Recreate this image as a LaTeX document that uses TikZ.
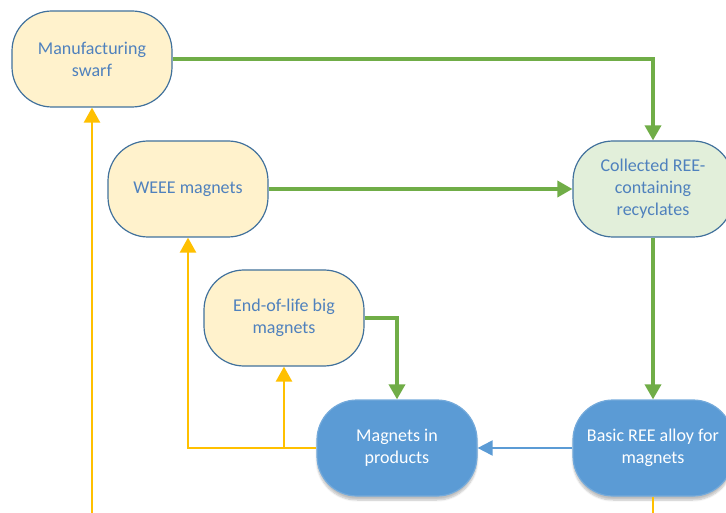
\documentclass[tikz,border=0pt]{standalone}
\usepackage{fontspec}
\setmainfont{Carlito}
\usetikzlibrary{arrows.meta,shadows.blur}
\definecolor{lightfill}{HTML}{FFF2CC}
\definecolor{greenfill}{HTML}{E2EFDA}
\definecolor{boxrim}{HTML}{41719C}
\definecolor{boxtext}{HTML}{4F81BD}
\definecolor{solidblue}{HTML}{5B9BD5}
\definecolor{flowgreen}{HTML}{70AD47}
\definecolor{flowyellow}{HTML}{FFC000}
\tikzset{
  stage/.style={rectangle, rounded corners=40pt, minimum width=160pt,
    minimum height=96pt, align=center, inner sep=2pt, line width=1.2pt,
    font=\fontsize{18}{22}\selectfont},
  paleyellow/.style={stage, draw=boxrim, fill=lightfill, text=boxtext},
  palegreen/.style={stage, draw=boxrim, fill=greenfill, text=boxtext},
  solid box/.style={stage, draw=solidblue!85!white, fill=solidblue, text=white,
    blur shadow={shadow xshift=0pt, shadow yshift=-4pt, shadow opacity=25, shadow blur steps=6}},
  greenflow/.style={draw=flowgreen, line width=3.5pt,
    -{Triangle[width=16pt,length=15pt]}},
  yellowflow/.style={draw=flowyellow, line width=2.4pt,
    -{Triangle[width=16pt,length=15pt]}},
  yellowline/.style={draw=flowyellow, line width=2.4pt},
  blueflow/.style={draw=solidblue, line width=2pt,
    -{Triangle[width=15pt,length=15pt]}},
}
\begin{document}
\begin{tikzpicture}[x=1pt,y=-1pt]
  \useasboundingbox (0,0) rectangle (726,513);
  \clip (0,0) rectangle (726,513);

  % stages of the recycling loop
  \node[paleyellow] (swarf) at (92,59) {Manufacturing\\swarf};
  \node[paleyellow] (weee) at (188,189) {WEEE magnets};
  \node[palegreen] (collected) at (653,189) {Collected REE-\\containing\\recyclates};
  \node[paleyellow] (eol) at (284,318) {End-of-life big\\magnets};
  \node[solid box] (products) at (397,448) {Magnets in\\products};
  \node[solid box] (alloy) at (653,448) {Basic REE alloy for\\magnets};

  % loose ends at the lower edge
  \coordinate (swarfsrc) at (92,520);
  \coordinate (alloyout) at (653,520);
  \coordinate (split) at (284,448);

  % green flows towards the recyclates and the products
  \draw[greenflow] (swarf.east) -| (collected.north);
  \draw[greenflow] (weee.east) -- (collected.west);
  \draw[greenflow] (collected.south) -- (alloy.north);
  \draw[greenflow] (eol.east) -| (products.north);

  % alloy into products
  \draw[blueflow] (alloy.west) -- (products.east);

  % yellow flows out of products
  \draw[yellowflow] (products.west) -| (weee.south);
  \draw[yellowflow] (split) -- (eol.south);
  \draw[yellowflow] (swarfsrc) -- (swarf.south);
  \draw[yellowline] (alloy.south) -- (alloyout);
\end{tikzpicture}
\end{document}
